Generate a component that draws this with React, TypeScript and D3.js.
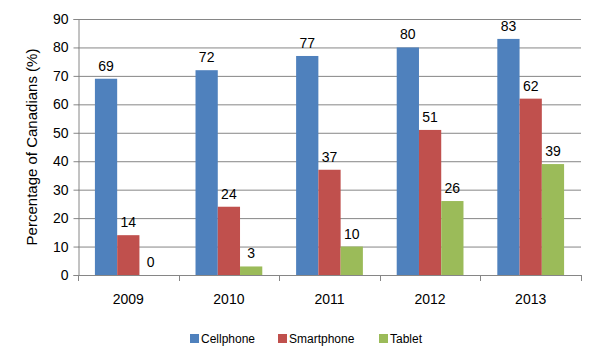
import { useEffect, useRef } from 'react'
import * as d3 from 'd3'

const years = ['2009', '2010', '2011', '2012', '2013']
const seriesNames = ['Cellphone', 'Smartphone', 'Tablet']
const cellphone = [69, 72, 77, 80, 83]
const smartphone = [14, 24, 37, 51, 62]
const tablet = [0, 3, 10, 26, 39]
const yTicks = [0, 10, 20, 30, 40, 50, 60, 70, 80, 90]
const colors = ['#4F81BD', '#C0504D', '#9BBB59']

export default function App() {
  const svgRef = useRef<SVGSVGElement>(null)

  useEffect(() => {
    if (!svgRef.current) return
    const width = 601
    const height = 360
    const left = 78
    const right = 581
    const top = 19
    const bottom = 275
    const font = "'Liberation Sans', Arial, sans-serif"

    const values = [cellphone, smartphone, tablet]

    const svg = d3.select(svgRef.current)
    svg.selectAll('*').remove()
    svg.attr('width', width).attr('height', height).style('background', '#fff')

    const x0 = d3.scaleBand<string>().domain(years).range([left, right])
    const x1 = d3.scaleBand<string>().domain(seriesNames)
      .range([0, x0.bandwidth()]).paddingOuter(0.76).paddingInner(0)
    const y = d3.scaleLinear().domain([0, 90]).range([bottom, top])

    // gridlines
    svg.append('g')
      .selectAll('line')
      .data(yTicks.filter(t => t > 0))
      .join('line')
      .attr('x1', left).attr('x2', right)
      .attr('y1', d => y(d) + 0.5).attr('y2', d => y(d) + 0.5)
      .attr('stroke', '#868686')

    // y axis
    const yAxis = svg.append('g').attr('transform', `translate(${left + 0.5},0)`)
      .call(d3.axisLeft(y).tickValues(yTicks).tickSize(5).tickPadding(5))
    yAxis.select('.domain').attr('stroke', '#868686')
    yAxis.selectAll('.tick line').attr('stroke', '#868686')
    yAxis.selectAll('.tick text').attr('fill', '#000').style('font', `14px ${font}`)

    // bars
    seriesNames.forEach((s, si) => {
      svg.append('g')
        .selectAll('rect')
        .data(years.map((yr, i) => ({ yr, v: values[si][i] })))
        .join('rect')
        .attr('x', d => x0(d.yr)! + x1(s)!)
        .attr('width', x1.bandwidth())
        .attr('y', d => y(d.v))
        .attr('height', d => bottom - y(d.v))
        .attr('fill', colors[si])

      svg.append('g')
        .selectAll('text')
        .data(years.map((yr, i) => ({ yr, v: values[si][i] })))
        .join('text')
        .attr('x', d => x0(d.yr)! + x1(s)! + x1.bandwidth() / 2)
        .attr('y', d => y(d.v) - 8)
        .attr('text-anchor', 'middle')
        .style('font', `14px ${font}`)
        .attr('fill', '#000')
        .text(d => d.v)
    })

    // x axis
    svg.append('line')
      .attr('x1', left).attr('x2', right)
      .attr('y1', bottom + 0.5).attr('y2', bottom + 0.5)
      .attr('stroke', '#868686')
    svg.append('g')
      .selectAll('line')
      .data([...years.map(yr => x0(yr)!), right])
      .join('line')
      .attr('x1', d => Math.round(d) + 0.5).attr('x2', d => Math.round(d) + 0.5)
      .attr('y1', bottom).attr('y2', bottom + 6)
      .attr('stroke', '#868686')
    svg.append('g')
      .selectAll('text')
      .data(years)
      .join('text')
      .attr('x', d => x0(d)! + x0.bandwidth() / 2)
      .attr('y', bottom + 29)
      .attr('text-anchor', 'middle')
      .style('font', `14px ${font}`)
      .attr('fill', '#000')
      .text(d => d)

    // y label
    svg.append('text')
      .attr('transform', `translate(37,147) rotate(-90)`)
      .attr('text-anchor', 'middle')
      .style('font', `15px ${font}`)
      .attr('fill', '#000')
      .text('Percentage of Canadians (%)')

    // legend
    const legendX = [190, 278, 379]
    const lg = svg.append('g')
    seriesNames.forEach((s, i) => {
      lg.append('rect')
        .attr('x', legendX[i]).attr('y', 334)
        .attr('width', 9).attr('height', 9)
        .attr('fill', colors[i])
      lg.append('text')
        .attr('x', legendX[i] + 11).attr('y', 343)
        .style('font', `12px ${font}`)
        .attr('fill', '#000')
        .text(s)
    })
  }, [])

  return <svg ref={svgRef} style={{ position: 'absolute', left: 0, top: 0 }} />
}
